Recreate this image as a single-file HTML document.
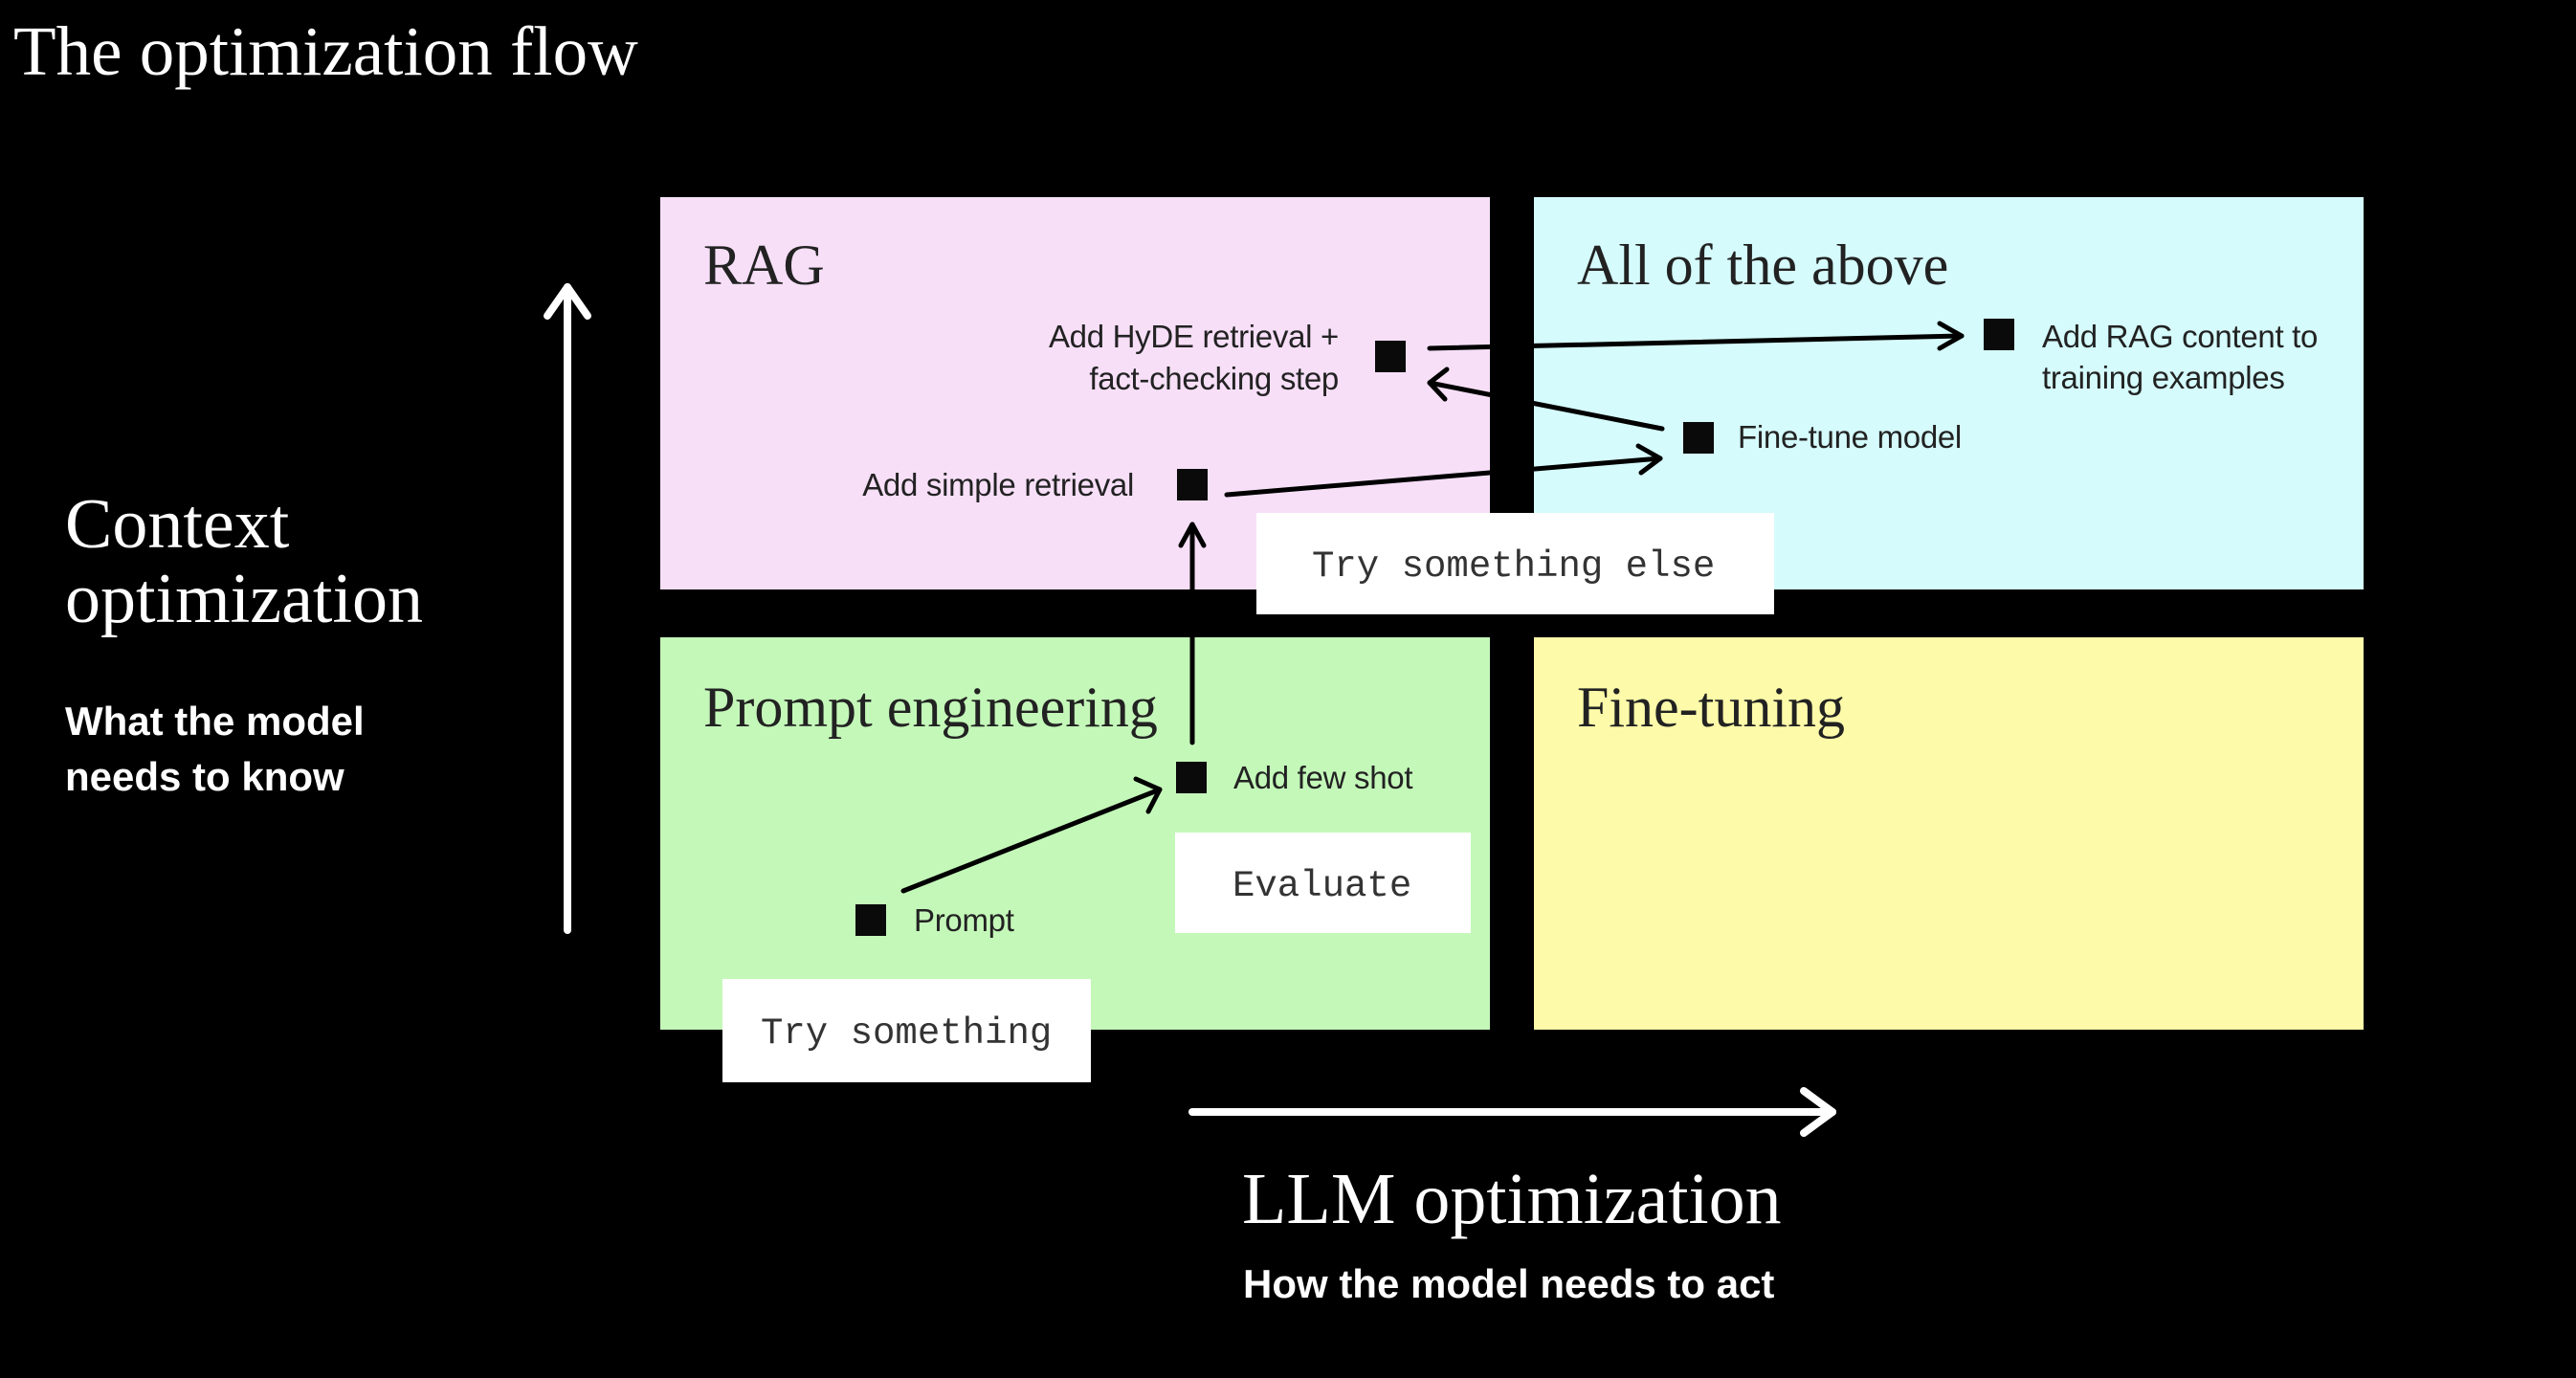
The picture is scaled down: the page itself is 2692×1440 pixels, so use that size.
<!DOCTYPE html>
<html><head><meta charset="utf-8"><style>
html,body{margin:0;padding:0;background:#000;}
body{width:2692px;height:1440px;overflow:hidden;position:relative;}
svg{position:absolute;left:0;top:0;}
.serif{font-family:"Liberation Serif",serif;}
.sans{font-family:"Liberation Sans",sans-serif;}
.mono{font-family:"Liberation Mono",monospace;}
</style></head><body>
<svg width="2692" height="1440" viewBox="0 0 2692 1440">
<text x="14" y="78" class="serif" font-size="73" fill="#fff">The optimization flow</text>

<rect x="690" y="206" width="867" height="410" fill="#f7dff8"/>
<rect x="1603" y="206" width="867" height="410" fill="#d5fbfc"/>
<rect x="690" y="666" width="867" height="410" fill="#c4f8b9"/>
<rect x="1603" y="666" width="867" height="410" fill="#fdfaa9"/>

<g class="serif" font-size="60" fill="#222">
<text x="735" y="297">RAG</text>
<text x="1648" y="297">All of the above</text>
<text x="735" y="759">Prompt engineering</text>
<text x="1648" y="759">Fine-tuning</text>
</g>

<g stroke="#fff" stroke-width="8" fill="none" stroke-linecap="round" stroke-linejoin="round">
<line x1="593" y1="972" x2="593" y2="300"/>
<polyline points="572,330 593,300 614,330"/>
<line x1="1246" y1="1162" x2="1915" y2="1162"/>
<polyline points="1885,1140 1915,1162 1885,1184"/>
</g>

<text x="68" y="572" class="serif" font-size="74" fill="#fff">Context</text>
<text x="68" y="650" class="serif" font-size="74" fill="#fff">optimization</text>
<text x="68" y="768" class="sans" font-size="42" font-weight="bold" fill="#fff">What the model</text>
<text x="68" y="826" class="sans" font-size="42" font-weight="bold" fill="#fff">needs to know</text>
<text x="1298" y="1278" class="serif" font-size="76" fill="#fff">LLM optimization</text>
<text x="1299" y="1356" class="sans" font-size="42" font-weight="bold" fill="#fff">How the model needs to act</text>

<g stroke="#000" stroke-width="5" fill="none" stroke-linecap="round" stroke-linejoin="round">
<line x1="944" y1="931" x2="1212" y2="825"/>
<polyline points="1187,814 1212,825 1200,848"/>
<line x1="1246" y1="776" x2="1246" y2="548"/>
<polyline points="1234,570 1246,548 1258,570"/>
<line x1="1282" y1="517" x2="1735" y2="479"/>
<polyline points="1712,466 1735,479 1715,494"/>
<line x1="1737" y1="448" x2="1494" y2="400"/>
<polyline points="1512,386 1494,400 1510,417"/>
<line x1="1494" y1="364" x2="2050" y2="351"/>
<polyline points="2027,338 2050,351 2027,364"/>
</g>

<g fill="#0a0a0a">
<rect x="894" y="945" width="32" height="33"/>
<rect x="1229" y="796" width="32" height="33"/>
<rect x="1230" y="490" width="32" height="33"/>
<rect x="1437" y="356" width="32" height="33"/>
<rect x="1759" y="441" width="32" height="33"/>
<rect x="2073" y="333" width="32" height="33"/>
</g>
<g class="sans" font-size="33" fill="#222" letter-spacing="-0.3">
<text x="955" y="973">Prompt</text>
<text x="1289" y="824">Add few shot</text>
<text x="1185" y="518" text-anchor="end">Add simple retrieval</text>
<text x="1399" y="363" text-anchor="end">Add HyDE retrieval +</text>
<text x="1399" y="407" text-anchor="end">fact-checking step</text>
<text x="1816" y="468">Fine-tune model</text>
<text x="2134" y="363">Add RAG content to</text>
<text x="2134" y="406">training examples</text>
</g>

<rect x="1313" y="536" width="541" height="106" fill="#fff"/>
<rect x="1228" y="870" width="309" height="105" fill="#fff"/>
<rect x="755" y="1023" width="385" height="108" fill="#fff"/>
<g class="mono" font-size="39" fill="#333">
<text x="1371" y="602">Try something else</text>
<text x="1288" y="936">Evaluate</text>
<text x="795" y="1090">Try something</text>
</g>
</svg>
</body></html>
